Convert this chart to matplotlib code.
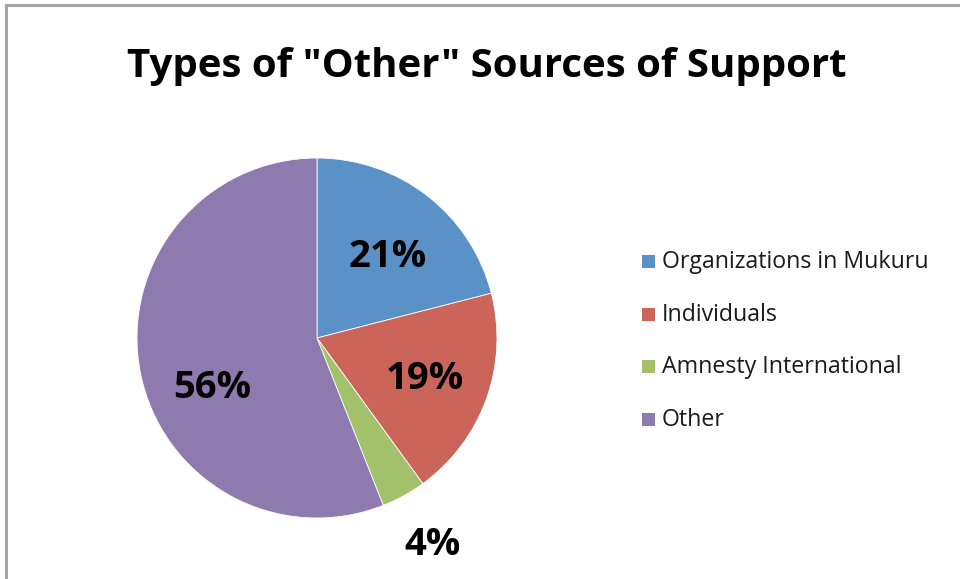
import matplotlib
matplotlib.use("Agg")
import matplotlib.pyplot as plt
from matplotlib.patches import Rectangle
from matplotlib.lines import Line2D

categories = ["Organizations in Mukuru", "Individuals", "Amnesty International", "Other"]
shares = [21, 19, 4, 56]
colors = ["#5A91C6", "#CB6559", "#A3C16A", "#8F7AB0"]
title = 'Types of "Other" Sources of Support'

W, H = 960, 579
fig = plt.figure(figsize=(W / 100, H / 100), dpi=100)
fig.patch.set_facecolor("white")

# chart frame (top and left edges visible)
fig.add_artist(Line2D([6 / W, 6 / W], [0, 1 - 5 / H], transform=fig.transFigure,
                      color="#A6A6A6", lw=2.2))
fig.add_artist(Line2D([6 / W, 1], [1 - 5 / H, 1 - 5 / H], transform=fig.transFigure,
                      color="#A6A6A6", lw=2.2))

fig.text(487 / W, 1 - 67 / H, title, ha="center", va="center",
         fontsize=29, fontweight="bold", family="Open Sans", color="black")

# pie axes
cx, cy, r = 317, 338, 180
ax = fig.add_axes([(cx - r) / W, (H - cy - r) / H, 2 * r / W, 2 * r / H])
wedges, texts, autotexts = ax.pie(
    shares, colors=colors, startangle=90, counterclock=False,
    autopct=lambda p: f"{p:.0f}%", pctdistance=0.62,
    wedgeprops=dict(edgecolor="white", linewidth=0.6),
    textprops=dict(fontsize=27.5, fontweight="bold", family="Open Sans", color="black"),
)
ax.set_xlim(-1, 1)
ax.set_ylim(-1, 1)
ax.set_aspect("equal")
ax.axis("off")

# label placement tweaks for the purple and the small green slice
autotexts[3].set_position((-0.58, -0.28))
autotexts[2].set_position((0.64, -1.15))
autotexts[1].set_position((0.60, -0.23))
autotexts[0].set_position((0.39, 0.45))

# legend
legend_y = [262, 315, 367, 420]
for cat, col, y in zip(categories, colors, legend_y):
    fig.add_artist(Rectangle(((642) / W, 1 - (y + 6) / H), 13 / W, 13 / H,
                             transform=fig.transFigure, facecolor=col, edgecolor="none"))
    fig.text(662 / W, 1 - y / H, cat, ha="left", va="center",
             fontsize=16.7, family="Open Sans", color="#1a1a1a")

fig.savefig("out.png", dpi=100)
